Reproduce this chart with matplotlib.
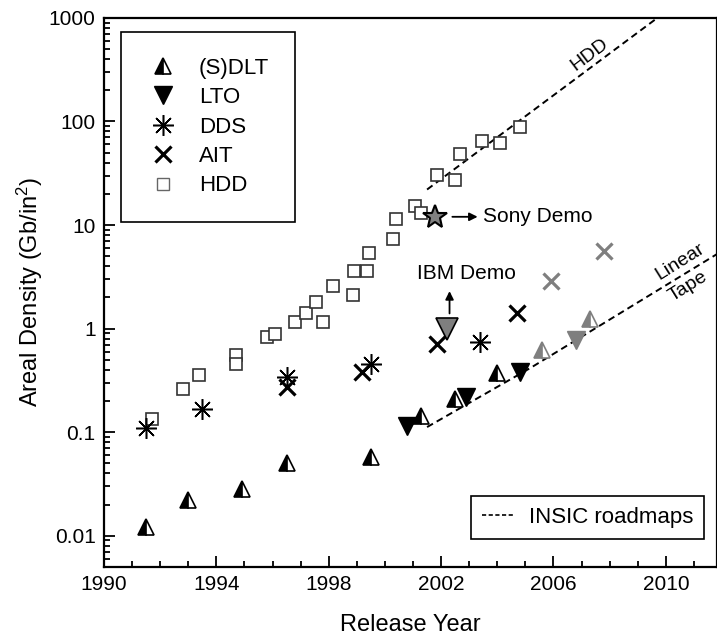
import matplotlib
matplotlib.use("Agg")
import matplotlib.pyplot as plt
from matplotlib.lines import Line2D
from matplotlib.ticker import FixedLocator, LogLocator, FuncFormatter, MultipleLocator

plt.rcParams['font.family'] = ['Liberation Sans', 'DejaVu Sans']
plt.rcParams['mathtext.default'] = 'regular'

# (S)DLT tape, released and roadmap (grey)
sdlt_year = [1991.5, 1993.0, 1994.9, 1996.5, 1999.5, 2001.3, 2002.5, 2004.0]
sdlt_dens = [0.0122, 0.022, 0.028, 0.05, 0.058, 0.143, 0.21, 0.37]
sdlt_plan_year = [2005.6, 2007.3]
sdlt_plan_dens = [0.62, 1.25]

# LTO
lto_year = [2000.8, 2002.9, 2004.8]
lto_dens = [0.115, 0.22, 0.38]
lto_plan_year = [2006.8]
lto_plan_dens = [0.78]
ibm_year = [2002.2]
ibm_dens = [1.0]

# DDS
dds_year = [1991.5, 1993.5, 1996.5, 1999.5, 2003.4]
dds_dens = [0.11, 0.167, 0.34, 0.46, 0.75]

# AIT
ait_year = [1996.5, 1999.2, 2001.85, 2004.7]
ait_dens = [0.27, 0.38, 0.71, 1.4]
ait_plan_year = [2005.9, 2007.8]
ait_plan_dens = [2.86, 5.6]

# HDD
hdd_year = [1991.7, 1992.8, 1993.4, 1994.7, 1994.7, 1995.8, 1996.1, 1996.8, 1997.2,
            1997.55, 1997.8, 1998.15, 1998.86, 1998.9, 1999.36, 1999.43, 2000.3,
            2000.4, 2001.07, 2001.3, 2001.85, 2002.5, 2002.67, 2003.45, 2004.1, 2004.8]
hdd_dens = [0.134, 0.26, 0.357, 0.56, 0.46, 0.83, 0.89, 1.17, 1.4,
            1.79, 1.15, 2.56, 2.09, 3.57, 3.57, 5.35, 7.3,
            11.4, 15.3, 13.1, 30.5, 26.9, 48, 64, 62.5, 89]
sony_year = [2001.8]
sony_dens = [12.0]

# INSIC roadmaps
hdd_road_year = [2001.5, 2009.7]
hdd_road_dens = [22, 1000]
tape_road_year = [2001.5, 2005.2, 2011.8]
tape_road_dens = [0.112, 0.42, 5.2]

year_ticks = [1990, 1994, 1998, 2002, 2006, 2010]
dens_ticks = [0.01, 0.1, 1, 10, 100, 1000]

grey = '#7f7f7f'

fig = plt.figure(figsize=(7.17, 6.37), dpi=100)
ax = fig.add_axes([0.145, 0.110, 0.855, 0.862])

dash = dict(color='black', lw=1.4, ls=(0, (3.5, 2.2)))
ax.plot(hdd_road_year, hdd_road_dens, **dash)
ax.plot(tape_road_year, tape_road_dens, **dash)

sq = dict(ls='none', marker='s', ms=9, mfc='white', mec='#333333', mew=1.2)
ax.plot(hdd_year, hdd_dens, **sq)

ax.plot(sony_year, sony_dens, ls='none', marker='*', ms=18, mfc='#808080', mec='black', mew=1.5)

tri = dict(ls='none', marker='^', ms=12, fillstyle='left', markerfacecoloralt='white', mew=1.2)
ax.plot(sdlt_year, sdlt_dens, mfc='black', mec='black', **tri)
ax.plot(sdlt_plan_year, sdlt_plan_dens, mfc=grey, mec=grey, **tri)

ax.plot(lto_year, lto_dens, ls='none', marker='v', ms=13, color='black')
ax.plot(lto_plan_year, lto_plan_dens, ls='none', marker='v', ms=13, color=grey)
ax.plot(ibm_year, ibm_dens, ls='none', marker='v', ms=16, mfc=grey, mec='black', mew=1.2)

ast = dict(ls='none', marker=(8, 2, 0), ms=15, mew=1.1)
ax.plot(dds_year, dds_dens, color='black', **ast)

xm = dict(ls='none', marker='x', ms=11, mew=2.3)
ax.plot(ait_year, ait_dens, color='black', **xm)
ax.plot(ait_plan_year, ait_plan_dens, color=grey, **xm)

# annotations
arrow = dict(arrowstyle='-|>', color='black', lw=1.3, mutation_scale=12, shrinkA=0, shrinkB=0)
ax.annotate('', xy=(2003.3, 12.0), xytext=(2002.4, 12.0), arrowprops=arrow)
ax.text(2003.5, 12.0, 'Sony Demo', fontsize=15, va='center', ha='left')
ax.annotate('', xy=(2002.3, 2.3), xytext=(2002.3, 1.4), arrowprops=arrow)
ax.text(2002.9, 3.4, 'IBM Demo', fontsize=15, va='center', ha='center')
ax.text(2007.3, 440, 'HDD', fontsize=14, rotation=37, va='center', ha='center')
ax.text(2010.5, 4.4, 'Linear', fontsize=14, rotation=32, va='center', ha='center')
ax.text(2010.8, 2.55, 'Tape', fontsize=14, rotation=32, va='center', ha='center')

ax.set_yscale('log')
ax.set_xlim(1990, 2011.82)
ax.set_ylim(0.005, 1000)
ax.xaxis.set_major_locator(FixedLocator(year_ticks))
ax.xaxis.set_minor_locator(MultipleLocator(1))
ax.yaxis.set_major_locator(FixedLocator(dens_ticks))
ax.yaxis.set_minor_locator(LogLocator(base=10, subs=range(2, 10)))
ax.yaxis.set_major_formatter(FuncFormatter(lambda v, p: '%g' % v))
ax.tick_params(which='both', direction='in', top=False, right=False, width=1.3, labelsize=15)
ax.tick_params(which='major', length=8, pad=6)
ax.tick_params(which='minor', length=4.5)
for s in ax.spines.values():
    s.set_linewidth(1.6)

ax.set_xlabel('Release Year', fontsize=17, labelpad=14)
ax.set_ylabel('Areal Density (Gb/in$^2$)', fontsize=17, labelpad=3)

handles = [
    Line2D([], [], mfc='black', mec='black', **tri),
    Line2D([], [], ls='none', marker='v', ms=13, color='black'),
    Line2D([], [], color='black', **ast),
    Line2D([], [], color='black', **xm),
    Line2D([], [], ls='none', marker='s', ms=8, mfc='white', mec='#666666', mew=1.0),
]
labels = ['(S)DLT', 'LTO', 'DDS', 'AIT', 'HDD']
leg1 = ax.legend(handles, labels, loc='upper left', bbox_to_anchor=(0.028, 0.974),
                 borderaxespad=0, fontsize=16, frameon=True, fancybox=False,
                 edgecolor='black', framealpha=1, borderpad=1.15, labelspacing=0.38,
                 handlelength=1.5, handletextpad=0.85)
leg1.get_frame().set_linewidth(1.2)
ax.add_artist(leg1)

leg2 = ax.legend([Line2D([], [], color='black', lw=1.2, ls=(0, (2.5, 1.5)))], ['INSIC roadmaps'],
                 loc='lower right', bbox_to_anchor=(0.979, 0.051), borderaxespad=0,
                 fontsize=16, fancybox=False, edgecolor='black', framealpha=1,
                 borderpad=0.5, handlelength=1.4, handletextpad=0.7)
leg2.get_frame().set_linewidth(1.2)

fig.savefig('out.png', dpi=100)
